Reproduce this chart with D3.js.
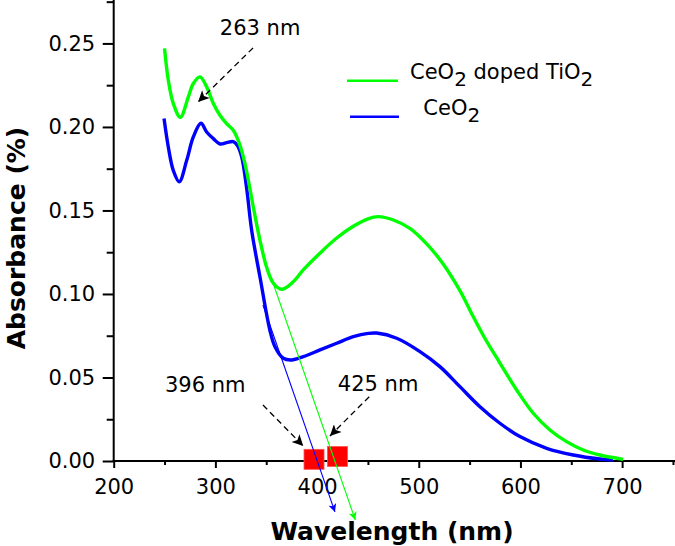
<!DOCTYPE html>
<html>
<head>
<meta charset="utf-8">
<script src="https://cdn.jsdelivr.net/npm/d3@7"></script>
<style>
  body { margin: 0; background: #fff; }
  svg { display: block; font-family: "DejaVu Sans", Verdana, sans-serif; }
</style>
</head>
<body>
<script>
// CeO2 doped TiO2 (green) : [wavelength nm, absorbance]
const dopedData = [
  [250, 0.247], [253.7, 0.228], [258.6, 0.214], [265.5, 0.2058], [273.4, 0.218],
  [278.3, 0.226], [284.9, 0.230], [291.4, 0.224], [298, 0.214], [304.5, 0.207],
  [311, 0.202], [317.6, 0.198], [324.2, 0.189], [329.1, 0.178], [334, 0.163],
  [337.3, 0.152], [343.9, 0.132], [350.4, 0.116], [357, 0.1064], [365.2, 0.1028],
  [376, 0.107], [386.4, 0.1144], [402.8, 0.1244], [419.3, 0.1335], [435.6, 0.1405],
  [450, 0.145], [460.2, 0.1463], [475, 0.1443], [491.3, 0.1393], [507.8, 0.130],
  [524, 0.118], [540.5, 0.102], [553.6, 0.0864], [565, 0.0735], [580, 0.0585],
  [596.3, 0.0425], [612.6, 0.0286], [629, 0.0186], [645.4, 0.0116], [661.7, 0.0066],
  [678, 0.0036], [701, 0.001]
];

// CeO2 (blue)
const ceo2Data = [
  [249.5, 0.205], [253.7, 0.188], [258.6, 0.174], [264.5, 0.1672], [271.8, 0.180],
  [278.3, 0.194], [285.8, 0.2022], [291.4, 0.197], [298, 0.193], [304.5, 0.1898],
  [311.1, 0.1906], [317.6, 0.1912], [321.5, 0.189], [325.9, 0.182], [330.8, 0.163],
  [335.7, 0.138], [343.9, 0.110], [353.7, 0.078], [358.6, 0.0684], [366.8, 0.0615],
  [375, 0.0605], [386.4, 0.0625], [402.9, 0.0665], [419.3, 0.0705], [435.6, 0.0744],
  [450.3, 0.0764], [458.6, 0.0766], [478.3, 0.0735], [501.2, 0.0655], [520.8, 0.0565],
  [540.5, 0.0445], [560.2, 0.0325], [579.8, 0.0226], [599.5, 0.0146], [625.8, 0.0076],
  [651.9, 0.0036], [678, 0.0012], [691, 0.0006]
];

// tangent (band edge) lines, start -> arrow tip
const ceo2Tangent = [[346.8, 0.0934], [417.6, -0.0305]];
const dopedTangent = [[356.7, 0.1066], [437.6, -0.0353]];

// band edge markers
const edgePoints = [[397, 0.001], [420, 0.0027]];

// labels with dashed arrows: text position, arrow start, arrow tip
const notes = [
  { label: "263 nm", text: [344, 0.255], from: [337, 0.2473], to: [283, 0.215] },
  { label: "396 nm", text: [290, 0.0415], from: [346.8, 0.0335], to: [386.4, 0.009] },
  { label: "425 nm", text: [460, 0.0420], from: [451.3, 0.0385], to: [412.7, 0.015] }
];

const xTicks = [200, 300, 400, 500, 600, 700];
const xMinor = [250, 350, 450, 550, 650, 750];
const yTicks = [0, 0.05, 0.10, 0.15, 0.20, 0.25];
const yMinor = [0.025, 0.075, 0.125, 0.175, 0.225, 0.275];

const legendItems = [
  { name: "CeO", sub: ["2", " doped TiO", "2"], color: "#00ff00" },
  { name: "  CeO", sub: ["2"], color: "#0000ff" }
];

const width = 675, height = 546;
const svg = d3.select("body").append("svg")
  .attr("width", width).attr("height", height);

const x = d3.scaleLinear().domain([200, 752]).range([113.7, 675]);
const y = d3.scaleLinear().domain([0, 0.276]).range([461, 0]);

// defs for arrow heads
const defs = svg.append("defs");
function marker(id, color, w, h) {
  defs.append("marker")
    .attr("id", id)
    .attr("viewBox", "0 0 10 10")
    .attr("refX", 10).attr("refY", 5)
    .attr("markerWidth", w).attr("markerHeight", h)
    .attr("markerUnits", "userSpaceOnUse")
    .attr("orient", "auto")
    .append("path")
    .attr("d", "M0,0 L10,5 L0,10 L2.5,5 Z")
    .attr("fill", color);
}
marker("arrBlack", "#000", 16, 11);
marker("arrBlue", "#0000ff", 16, 8);
marker("arrGreen", "#00ff00", 16, 8);

// axes
const xAxis = d3.axisBottom(x).tickValues(xTicks).tickSize(7).tickPadding(11).tickFormat(d3.format("d"));
const xAxisMinor = d3.axisBottom(x).tickValues(xMinor).tickSize(4).tickFormat("");
const yAxis = d3.axisLeft(y).tickValues(yTicks).tickSize(11).tickPadding(7.5).tickFormat(d3.format(".2f"));
const yAxisMinor = d3.axisLeft(y).tickValues(yMinor).tickSize(7).tickFormat("");

function styleAxis(g) {
  g.select(".domain").remove();
  g.selectAll(".tick line").attr("stroke", "#000").attr("stroke-width", 2);
  g.selectAll(".tick text").attr("fill", "#000")
    .style("font-size", "21px").style("font-family", "DejaVu Sans, Verdana, sans-serif");
}

svg.append("g").attr("transform", `translate(0,${y(0)})`).call(xAxisMinor).call(styleAxis);
svg.append("g").attr("transform", `translate(0,${y(0)})`).call(xAxis).call(styleAxis);
svg.append("g").attr("transform", `translate(${x(200)},0)`).call(yAxisMinor).call(styleAxis);
svg.append("g").attr("transform", `translate(${x(200)},0)`).call(yAxis).call(styleAxis);

// axis lines
svg.append("line")
  .attr("x1", x(200) - 1).attr("x2", x(752))
  .attr("y1", y(0)).attr("y2", y(0))
  .attr("stroke", "#000").attr("stroke-width", 2);
svg.append("line")
  .attr("x1", x(200)).attr("x2", x(200))
  .attr("y1", y(0)).attr("y2", y(0.276))
  .attr("stroke", "#000").attr("stroke-width", 2);

// axis titles
svg.append("text")
  .attr("x", 392).attr("y", 540)
  .attr("text-anchor", "middle")
  .style("font-size", "25px").style("font-weight", "bold")
  .text("Wavelength (nm)");
svg.append("text")
  .attr("transform", "translate(25,238) rotate(-90)")
  .attr("text-anchor", "middle")
  .style("font-size", "25px").style("font-weight", "bold")
  .text("Absorbance (%)");

// curves
const line = d3.line().x(d => x(d[0])).y(d => y(d[1])).curve(d3.curveCatmullRom.alpha(0.5));

svg.append("path").datum(ceo2Data)
  .attr("d", line).attr("fill", "none")
  .attr("stroke", "#0000ff").attr("stroke-width", 3.4);
svg.append("path").datum(dopedData)
  .attr("d", line).attr("fill", "none")
  .attr("stroke", "#00ff00").attr("stroke-width", 3.4);

// edge markers
svg.selectAll("rect.edge").data(edgePoints).enter()
  .append("rect").attr("class", "edge")
  .attr("x", d => x(d[0]) - 10).attr("y", d => y(d[1]) - 10)
  .attr("width", 20).attr("height", 20)
  .attr("fill", "#ff0000").attr("stroke", "#ff5050").attr("stroke-width", 0.8);

// tangent lines
const straight = d3.line().x(d => x(d[0])).y(d => y(d[1]));
svg.append("path").datum(ceo2Tangent)
  .attr("d", straight).attr("stroke", "#0000ff").attr("stroke-width", 1.1)
  .attr("fill", "none").attr("marker-end", "url(#arrBlue)");
svg.append("path").datum(dopedTangent)
  .attr("d", straight).attr("stroke", "#00ff00").attr("stroke-width", 1.1)
  .attr("fill", "none").attr("marker-end", "url(#arrGreen)");

// annotations
const note = svg.selectAll("g.note").data(notes).enter().append("g").attr("class", "note");
note.append("path")
  .attr("d", d => straight([d.from, d.to]))
  .attr("stroke", "#000").attr("stroke-width", 1.3)
  .attr("stroke-dasharray", "6,4").attr("fill", "none")
  .attr("marker-end", "url(#arrBlack)");
note.append("text")
  .attr("x", d => x(d.text[0])).attr("y", d => y(d.text[1]))
  .attr("text-anchor", "middle")
  .style("font-size", "21px")
  .text(d => d.label);

// legend
const legend = svg.append("g");
const lg = legend.selectAll("g").data(legendItems).enter().append("g")
  .attr("transform", (d, i) => `translate(0,${80.7 + i * 36})`);
lg.append("line")
  .attr("x1", (d, i) => 347 + i * 3).attr("x2", (d, i) => 398 + i)
  .attr("y1", 0).attr("y2", 0)
  .attr("stroke", d => d.color).attr("stroke-width", 2.5);
const lt = lg.append("text")
  .attr("x", 410).attr("y", -1.5)
  .style("font-size", "21px")
  .attr("xml:space", "preserve")
  .style("white-space", "pre");
lt.each(function(d) {
  const t = d3.select(this);
  t.append("tspan").text(d.name);
  d.sub.forEach((s, k) => {
    const isSub = s === "2";
    t.append("tspan")
      .attr("dy", isSub ? 7 : -7)
      .style("font-size", isSub ? "20px" : "21px")
      .text(s);
  });
});
</script>
</body>
</html>
